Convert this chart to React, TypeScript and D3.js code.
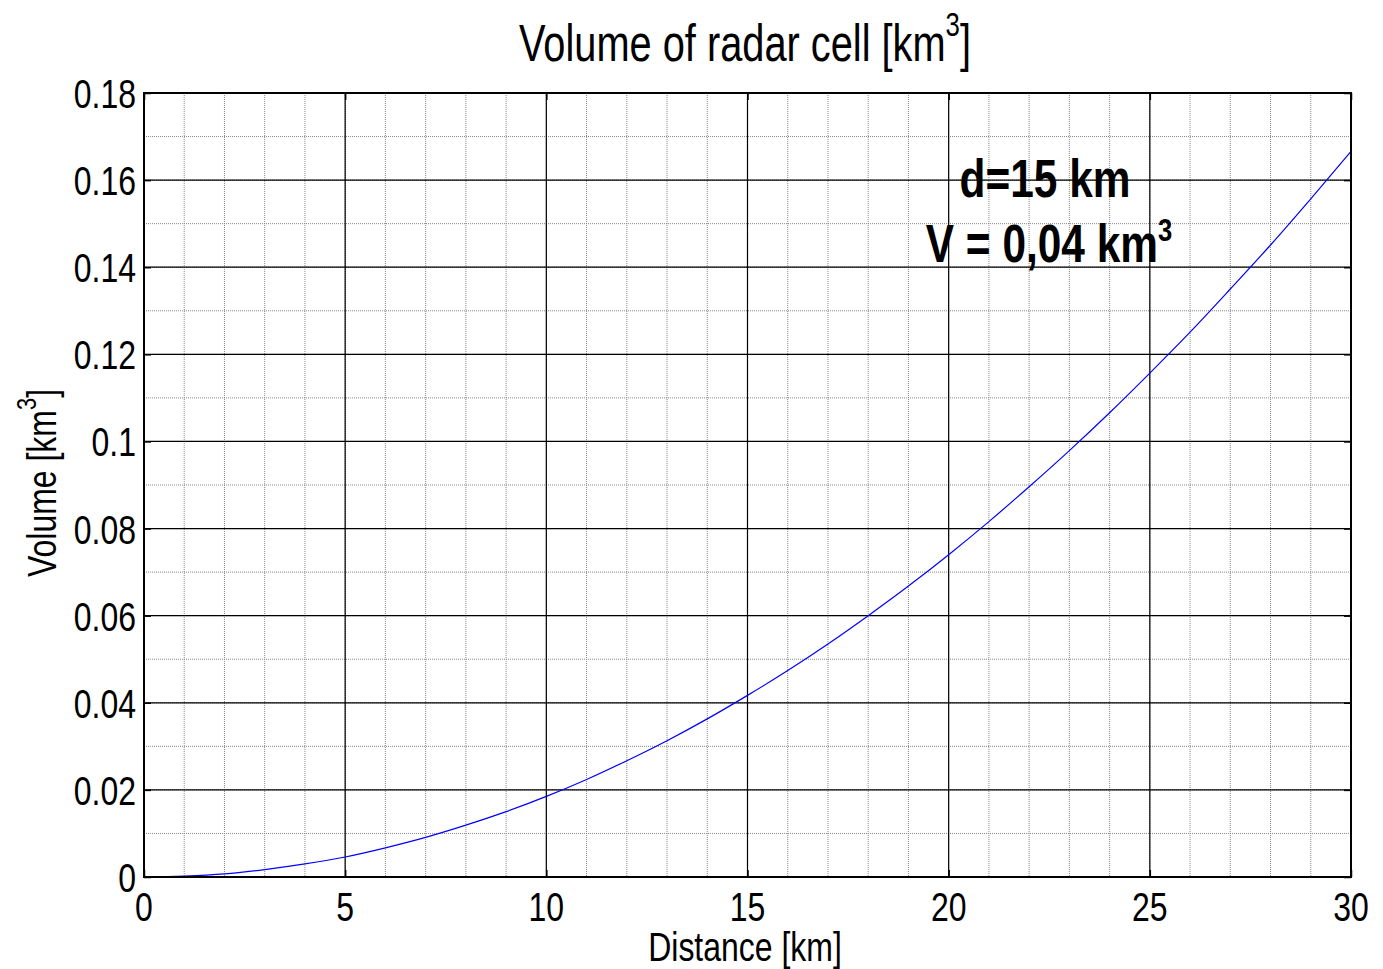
import React, { useRef, useEffect } from "react";
import * as d3 from "d3";

// distance [km] and volume [km^3]
const distance = [0, 1, 2, 3, 4, 5, 6, 7, 8, 9, 10, 11, 12, 13, 14, 15, 16, 17, 18, 19, 20, 21, 22, 23, 24, 25, 26, 27, 28, 29, 30];
const volume = [
    0, 0.0002, 0.0007, 0.0017, 0.003, 0.0046, 0.0067, 0.0091, 0.0119, 0.015, 0.0185,
    0.0224, 0.0267, 0.0313, 0.0363, 0.0417, 0.0474, 0.0535, 0.06, 0.0668, 0.074,
    0.0816, 0.0896, 0.0979, 0.1066, 0.1157, 0.1251, 0.135, 0.1451, 0.1557, 0.1666,
];

const xTicks = [0, 5, 10, 15, 20, 25, 30];
const yTicks = [0, 0.02, 0.04, 0.06, 0.08, 0.1, 0.12, 0.14, 0.16, 0.18];
const xMinor = d3.range(0, 31, 1);
const yMinor = d3.range(0, 0.1801, 0.01);

const FONT = "'Liberation Sans', Arial, sans-serif";
const NARROW = 0.78; // the figure's lettering is condensed horizontally

const App: React.FC = () => {
    const svgRef = useRef<SVGSVGElement | null>(null);
    const width = 1383;
    const height = 969;

    useEffect(() => {
        if (!svgRef.current) return;
        d3.select(svgRef.current).selectAll("*").remove();

        const svg = d3.select(svgRef.current);
        const margin = { top: 93, right: 32, bottom: 92, left: 144 };
        const innerWidth = width - margin.left - margin.right;
        const innerHeight = height - margin.top - margin.bottom;

        const x = d3.scaleLinear().domain([0, 30]).range([0, innerWidth]);
        const y = d3.scaleLinear().domain([0, 0.18]).range([innerHeight, 0]);

        svg.append("rect").attr("width", width).attr("height", height).attr("fill", "#fff");

        // condensed text placed at (tx, ty)
        const label = (
            parent: d3.Selection<any, unknown, null, undefined>,
            tx: number,
            ty: number,
            size: number,
            anchor: string,
            rotate = 0,
            bold = false,
            sx = NARROW
        ) =>
            parent
                .append("text")
                .attr("transform", `translate(${tx},${ty}) rotate(${rotate}) scale(${sx},1)`)
                .attr("text-anchor", anchor)
                .attr("font-family", FONT)
                .attr("font-size", size)
                .attr("font-weight", bold ? "bold" : "normal")
                .attr("fill", "#000");

        const g = svg.append("g").attr("transform", `translate(${margin.left},${margin.top})`);

        // minor grid
        g.selectAll(".xminor")
            .data(xMinor)
            .enter()
            .append("line")
            .attr("x1", (d) => x(d))
            .attr("x2", (d) => x(d))
            .attr("y1", 0)
            .attr("y2", innerHeight)
            .attr("stroke", "#888")
            .attr("stroke-width", 1)
            .attr("stroke-dasharray", "1,1");
        g.selectAll(".yminor")
            .data(yMinor)
            .enter()
            .append("line")
            .attr("x1", 0)
            .attr("x2", innerWidth)
            .attr("y1", (d) => y(d))
            .attr("y2", (d) => y(d))
            .attr("stroke", "#888")
            .attr("stroke-width", 1)
            .attr("stroke-dasharray", "1,1");

        // major grid
        g.selectAll(".xmajor")
            .data(xTicks)
            .enter()
            .append("line")
            .attr("x1", (d) => x(d))
            .attr("x2", (d) => x(d))
            .attr("y1", 0)
            .attr("y2", innerHeight)
            .attr("stroke", "#000")
            .attr("stroke-width", 1.2);
        g.selectAll(".ymajor")
            .data(yTicks)
            .enter()
            .append("line")
            .attr("x1", 0)
            .attr("x2", innerWidth)
            .attr("y1", (d) => y(d))
            .attr("y2", (d) => y(d))
            .attr("stroke", "#000")
            .attr("stroke-width", 1.2);

        // curve
        const line = d3
            .line<number>()
            .x((_, i) => x(distance[i]))
            .y((d) => y(d))
            .curve(d3.curveMonotoneX);
        g.append("path")
            .datum(volume)
            .attr("d", line)
            .attr("fill", "none")
            .attr("stroke", "#0000ff")
            .attr("stroke-width", 1.2);

        // inward ticks on all four sides
        g.append("g")
            .attr("transform", `translate(0,${innerHeight})`)
            .call(d3.axisBottom(x).tickValues(xTicks).tickSize(-7).tickFormat(() => "").tickSizeOuter(0));
        g.append("g").call(d3.axisLeft(y).tickValues(yTicks).tickSize(-7).tickFormat(() => "").tickSizeOuter(0));
        g.append("g").call(d3.axisTop(x).tickValues(xTicks).tickSize(-7).tickFormat(() => "").tickSizeOuter(0));
        g.append("g")
            .attr("transform", `translate(${innerWidth},0)`)
            .call(d3.axisRight(y).tickValues(yTicks).tickSize(-7).tickFormat(() => "").tickSizeOuter(0));
        g.selectAll(".domain").remove();
        g.selectAll(".tick line").attr("stroke", "#000").attr("stroke-width", 1.5);

        // tick labels
        xTicks.forEach((t) => label(g, x(t), innerHeight + 44, 41, "middle").text(String(t)));
        yTicks.forEach((t) => label(g, -8, y(t) + 15, 41, "end").text(String(+t.toFixed(2))));

        // box
        g.append("rect")
            .attr("width", innerWidth)
            .attr("height", innerHeight)
            .attr("fill", "none")
            .attr("stroke", "#000")
            .attr("stroke-width", 2);

        // title
        const title = label(svg, 745, 61, 51, "middle");
        title.append("tspan").text("Volume of radar cell [km");
        title.append("tspan").attr("dy", -25).attr("font-size", 33).text("3");
        title.append("tspan").attr("dy", 25).text("]");

        // x label
        label(svg, 745, 961, 41, "middle").text("Distance [km]");

        // y label
        const yl = label(svg, 56, margin.top + innerHeight / 2 - 2, 41, "middle", -90);
        yl.append("tspan").text("Volume [km");
        yl.append("tspan").attr("dy", -20).attr("font-size", 28).text("3");
        yl.append("tspan").attr("dy", 20).text("]");

        // annotation
        label(svg, 1045, 197, 53, "middle", 0, true, 0.8).text("d=15 km");
        const ann = label(svg, 1049, 262, 53, "middle", 0, true, 0.8);
        ann.append("tspan").text("V = 0,04 km");
        ann.append("tspan").attr("dy", -21).attr("font-size", 32).text("3");
    }, []);

    return <svg ref={svgRef} width={width} height={height} style={{ display: "block", position: "absolute", left: 0, top: 0 }}></svg>;
};

export default App;
